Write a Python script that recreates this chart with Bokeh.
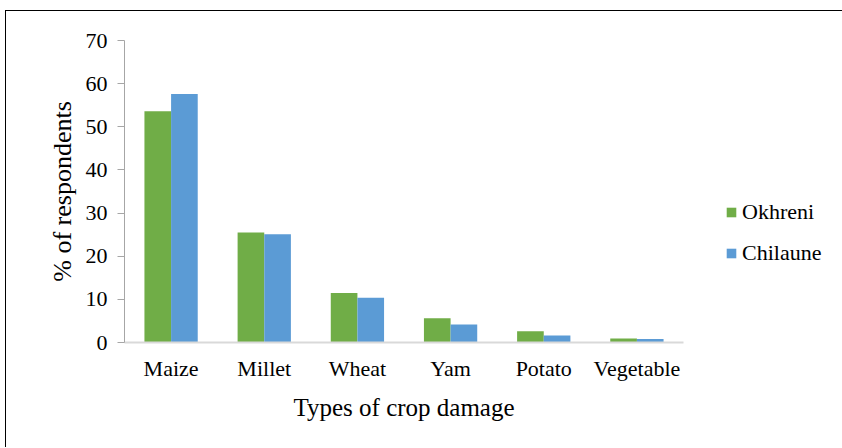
from bokeh.plotting import figure
from bokeh.models import ColumnDataSource, Legend, LegendItem, FactorRange
from bokeh.transform import dodge
from bokeh.embed import file_html
from bokeh.resources import INLINE

categories = ["Maize", "Millet", "Wheat", "Yam", "Potato", "Vegetable"]
okhreni = [53.6, 25.5, 11.5, 5.6, 2.6, 0.9]
chilaune = [57.6, 25.1, 10.4, 4.2, 1.6, 0.8]
y_ticks = [0, 10, 20, 30, 40, 50, 60, 70]

FONT = "Liberation Serif"
GREEN = "#70ad47"
BLUE = "#5b9bd5"

src = ColumnDataSource(dict(cat=categories, ok=okhreni, ch=chilaune))

p = figure(x_range=FactorRange(*categories, range_padding=0), y_range=(0, 70),
           width=835, height=436, output_backend="svg", toolbar_location=None,
           min_border_left=118, min_border_top=29, min_border_bottom=105,
           min_border_right=158)
p.frame_width = 559
p.frame_height = 302
p.styles = {"border-left": "1.5px solid black", "border-top": "1.5px solid black",
            "margin-left": "5px", "margin-top": "10px"}

r1 = p.vbar(x=dodge("cat", -0.143, range=p.x_range), top="ok", width=0.286,
            source=src, fill_color=GREEN, line_color=None)
r2 = p.vbar(x=dodge("cat", 0.143, range=p.x_range), top="ch", width=0.286,
            source=src, fill_color=BLUE, line_color=None)

p.xgrid.visible = False
p.ygrid.visible = False
p.outline_line_color = None

p.yaxis.ticker = y_ticks
p.yaxis.axis_line_color = "#a6a6a6"
p.yaxis.major_tick_line_color = "#a6a6a6"
p.yaxis.major_tick_in = 0
p.yaxis.major_tick_out = 7
p.yaxis.minor_tick_line_color = None
p.yaxis.major_label_standoff = 10
p.yaxis.major_label_text_font = FONT
p.yaxis.major_label_text_font_size = "22px"
p.yaxis.major_label_text_color = "#000000"
p.yaxis.axis_label = "% of respondents"
p.yaxis.axis_label_text_font = FONT
p.yaxis.axis_label_text_font_size = "26px"
p.yaxis.axis_label_text_font_style = "normal"
p.yaxis.axis_label_text_color = "#000000"
p.yaxis.axis_label_standoff = 6

p.xaxis.axis_line_color = "#d9d9d9"
p.xaxis.axis_line_width = 2
p.xaxis.major_tick_line_color = None
p.xaxis.minor_tick_line_color = None
p.xaxis.major_label_standoff = 7
p.xaxis.major_label_text_font = FONT
p.xaxis.major_label_text_font_size = "22px"
p.xaxis.major_label_text_color = "#000000"
p.xaxis.axis_label = "Types of crop damage"
p.xaxis.axis_label_text_font = FONT
p.xaxis.axis_label_text_font_size = "25px"
p.xaxis.axis_label_text_font_style = "normal"
p.xaxis.axis_label_text_color = "#000000"
p.xaxis.axis_label_standoff = 10

legend = Legend(items=[LegendItem(label="Okhreni", renderers=[r1]),
                       LegendItem(label="Chilaune", renderers=[r2])],
                location=(42, 76), border_line_color=None, background_fill_alpha=0,
                padding=0, margin=0, glyph_width=12, glyph_height=12,
                label_standoff=5, label_height=20, spacing=15,
                label_text_font=FONT, label_text_font_size="22px",
                label_text_color="#000000")
p.add_layout(legend, "right")

open("out.html", "w").write(file_html(p, INLINE))
